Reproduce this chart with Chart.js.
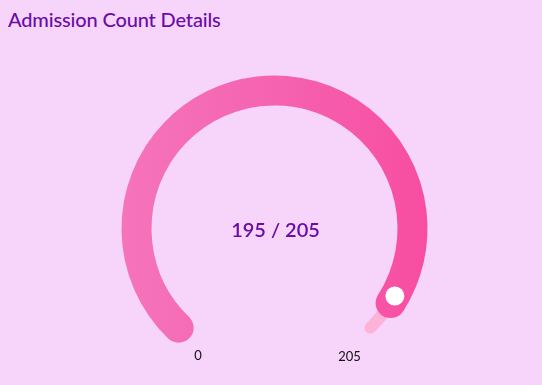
<!DOCTYPE html>
<html>
<head>
<meta charset="utf-8">
<script src="https://cdn.jsdelivr.net/npm/chart.js@4/dist/chart.umd.min.js"></script>
<style>
  html, body { margin: 0; padding: 0; background: #f7d4fa; width: 542px; height: 385px; overflow: hidden; }
  #title { position: absolute; left: 8px; top: 7px; margin: 0; font-family: Lato, "Noto Sans", sans-serif; font-weight: 500; font-size: 20px; color: #6a0ca8; letter-spacing: -0.15px; white-space: nowrap; }
  #wrap { position: absolute; left: 0; top: 0; width: 542px; height: 385px; }
</style>
</head>
<body>
<h1 id="title">Admission Count Details</h1>
<div id="wrap"><canvas id="c"></canvas></div>
<script>
const categories = ["Admitted", "Remaining"];
const currentValue = 195;
const maxValue = 205;
const values = [currentValue, maxValue - currentValue];
const tickLabels = ["0", "205"];

function arcGradient(ctx) {
  const g = ctx.createLinearGradient(121, 0, 427, 0);
  g.addColorStop(0, '#f574bc');
  g.addColorStop(0.5, '#f563b0');
  g.addColorStop(1, '#f84da1');
  return g;
}

const gaugePlugin = {
  id: 'gauge',
  beforeDatasetsDraw(chart) {
    const meta = chart.getDatasetMeta(0);
    const first = meta.data[0], last = meta.data[meta.data.length - 1];
    const { x, y, innerRadius, outerRadius } = first;
    const mid = (innerRadius + outerRadius) / 2;
    const ctx = chart.ctx;
    ctx.save();
    ctx.beginPath();
    ctx.arc(x, y, mid, first.startAngle, last.endAngle);
    ctx.lineWidth = 12;
    ctx.lineCap = 'round';
    ctx.strokeStyle = '#fdb3d8';
    ctx.stroke();
    ctx.restore();
  },
  afterDatasetsDraw(chart) {
    const meta = chart.getDatasetMeta(0);
    const arc = meta.data[0];
    const { x, y, innerRadius, outerRadius, startAngle, endAngle } = arc;
    const mid = (innerRadius + outerRadius) / 2;
    const half = (outerRadius - innerRadius) / 2;
    const ctx = chart.ctx;
    ctx.save();
    ctx.fillStyle = arcGradient(ctx);
    [startAngle, endAngle].forEach(a => {
      ctx.beginPath();
      ctx.arc(x + mid * Math.cos(a), y + mid * Math.sin(a), half, 0, Math.PI * 2);
      ctx.fill();
    });
    // knob
    const ka = endAngle - 0.06;
    ctx.beginPath();
    ctx.arc(x + mid * Math.cos(ka), y + mid * Math.sin(ka), 9.5, 0, Math.PI * 2);
    ctx.fillStyle = '#ffffff';
    ctx.fill();
    // center text
    ctx.fillStyle = '#6a0ca8';
    ctx.font = '600 20px Lato, "Noto Sans", sans-serif';
    ctx.textAlign = 'center';
    ctx.textBaseline = 'middle';
    ctx.fillText(currentValue + ' / ' + maxValue, x + 1, y + 2);
    // tick labels
    ctx.fillStyle = '#111111';
    ctx.font = '13px Lato, "Noto Sans", sans-serif';
    ctx.fillText(tickLabels[0], x - 0.5 * outerRadius, y + 0.83 * outerRadius);
    ctx.fillText(tickLabels[1], x + 0.49 * outerRadius, y + 0.836 * outerRadius);
    ctx.restore();
  }
};

new Chart(document.getElementById('c'), {
  type: 'doughnut',
  data: {
    labels: categories,
    datasets: [{
      data: values,
      backgroundColor: (c) => c.dataIndex === 0 ? arcGradient(c.chart.ctx) : 'rgba(0,0,0,0)',
      borderWidth: 0,
      hoverOffset: 0
    }]
  },
  options: {
    responsive: true,
    maintainAspectRatio: false,
    animation: false,
    rotation: -136,
    circumference: 272,
    radius: 153,
    cutout: '80.4%',
    layout: { padding: { left: 7, right: 0, top: 29, bottom: 0 } },
    plugins: { legend: { display: false }, tooltip: { enabled: false } },
    events: []
  },
  plugins: [gaugePlugin]
});
</script>
</body>
</html>
